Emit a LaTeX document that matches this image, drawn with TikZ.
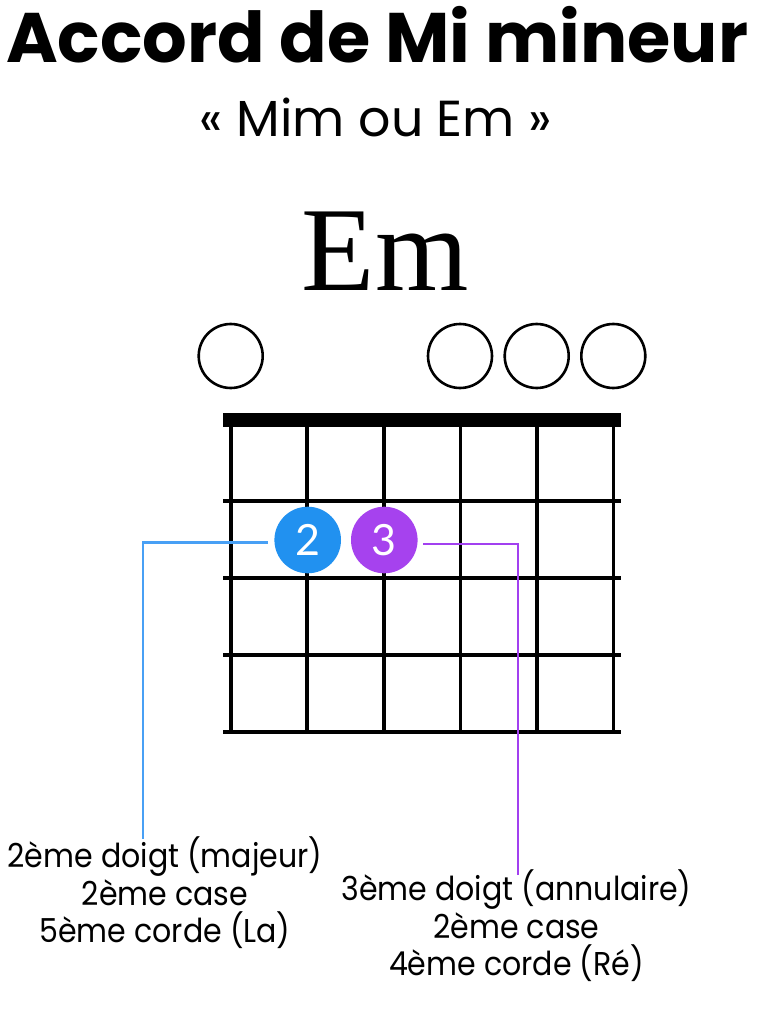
\documentclass[tikz,border=0pt]{standalone}
\usepackage{fontspec}
\setmainfont{Poppins}
\newfontfamily\emfont{Liberation Serif}
\newfontfamily\digfont{Lato}
\newfontfamily\labfont[FakeStretch=0.91]{Poppins}
\definecolor{dotblue}{RGB}{33,145,240}
\definecolor{lineblue}{RGB}{72,160,245}
\definecolor{dotpurple}{RGB}{166,66,238}
\definecolor{linepurple}{RGB}{162,64,240}
\begin{document}
\begin{tikzpicture}[x=1pt,y=-1pt,
  opencircle/.style={circle,draw=black,line width=2.6pt,minimum size=64pt,inner sep=0pt},
  fingerdot/.style={circle,minimum size=66.6pt,inner sep=0pt,text=white,font=\digfont\fontsize{43}{43}\selectfont},
  stringline/.style={line width=3.8pt},
  fretline/.style={line width=4pt},
  leader/.style={line width=2.9pt},
  lab/.style={anchor=base,inner sep=0pt,font=\labfont\fontsize{33}{33}\selectfont}]
\useasboundingbox (0,0) rectangle (770,1024);
\fill[white] (0,0) rectangle (770,1024);
% titles
\node[anchor=base west,inner sep=0pt] (title) at (6,63)
  {\resizebox{742pt}{!}{\fontsize{76}{76}\selectfont\bfseries Accord de Mi mineur}};
\node[anchor=base,inner sep=0pt] (subtitle) at (376,137)
  {\resizebox{352pt}{!}{\fontsize{54}{54}\selectfont « Mim ou Em »}};
\node[anchor=base,inner sep=0pt,font=\emfont\fontsize{120}{120}\selectfont] (chord) at (385,290) {Em};
% open strings
\node[opencircle] (o6) at (230.7,356) {};
\node[opencircle] (o3) at (460,356) {};
\node[opencircle] (o2) at (536.7,356) {};
\node[opencircle] (o1) at (613.3,356) {};
% fretboard
\fill (223,413) rectangle (621,427);
\foreach \x in {230.6,307.2,383.8,460.4,537,613.4}
  \draw[stringline] (\x,425) -- (\x,734);
\foreach \y in {501,578,655,732}
  \draw[fretline] (223,\y) -- (621,\y);
% fingers
\node[fingerdot,fill=dotblue] (d2) at (307.7,540) {2};
\node[fingerdot,fill=dotpurple] (d3) at (384.3,540) {3};
% labels
\node[lab] (l2a) at (165,867) {2ème doigt (majeur)};
\node[lab] (l2b) at (165,905) {2ème case};
\node[lab] (l2c) at (165,942) {5ème corde (La)};
\node[lab] (l3a) at (516.5,900) {3ème doigt (annulaire)};
\node[lab] (l3b) at (516.5,938) {2ème case};
\node[lab] (l3c) at (516.5,975) {4ème corde (Ré)};
% leaders
\coordinate (e2) at (143,839);
\coordinate (e3) at (518,875);
\draw[leader,lineblue] ([xshift=-6.5pt,yshift=-2.6pt]d2.west) -| (e2);
\draw[leader,linepurple] ([xshift=5.4pt,yshift=-4pt]d3.east) -| (e3);
\end{tikzpicture}
\end{document}
